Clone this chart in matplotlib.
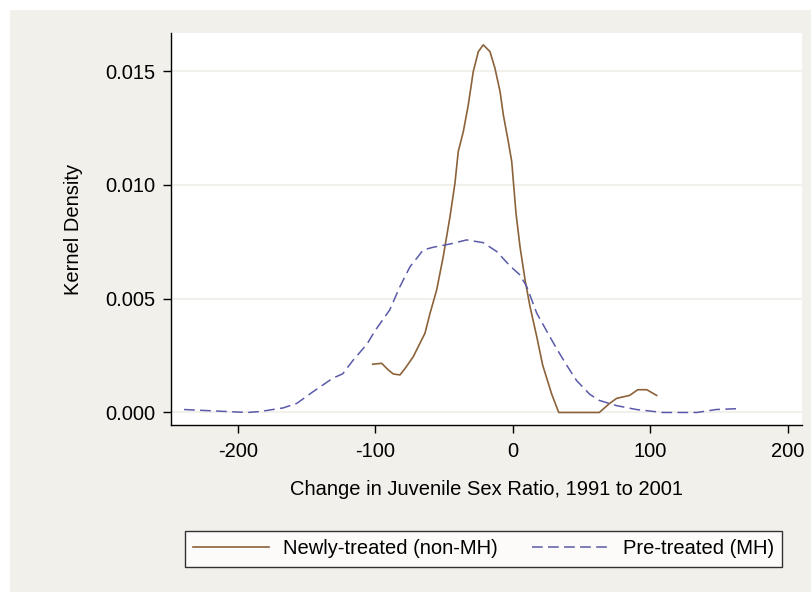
import matplotlib
matplotlib.use("Agg")
from matplotlib import pyplot as plt
from matplotlib.patches import Rectangle

plt.rcParams['font.family'] = ['Liberation Sans', 'DejaVu Sans']
plt.rcParams['axes.unicode_minus'] = False

# kernel density curves
new_x = [-101.8, -95.3, -90.5, -86.8, -82, -78.2, -72.3, -68.7, -63.8, -60.1,
         -55.3, -50.5, -45.6, -42, -39.6, -35.9, -32.3, -28.7, -25, -21.4,
         -16.5, -12.9, -9.2, -6.8, -3.2, -0.7, 0.9, 2.4, 5.3, 9, 12.6, 17.5,
         21.8, 28.4, 33.5, 63, 70.5, 75.6, 85, 91, 97.5, 104.7]
new_y = [0.00212, 0.00216, 0.00187, 0.00169, 0.00165, 0.00194, 0.00245, 0.00289,
         0.00348, 0.00436, 0.00538, 0.00685, 0.0086, 0.01007, 0.01146, 0.01234,
         0.01351, 0.01497, 0.01585, 0.01615, 0.01585, 0.01512, 0.0141, 0.01307,
         0.0119, 0.01102, 0.00985, 0.00875, 0.00729, 0.00582, 0.00465, 0.00333,
         0.00208, 0.0008, 0.0, 0.0, 0.0004, 0.00062, 0.00075, 0.001, 0.001, 0.00075]

pre_x = [-239, -193, -184, -167, -157, -145.5, -131, -123.6, -116, -106, -100,
         -89.5, -82, -74.7, -65, -57.7, -45.6, -33.5, -21.4, -11.6, -2, 5.3,
         10.2, 17.5, 27, 32, 39, 46.5, 56, 63, 75.6, 90, 109, 124, 134, 148, 165]
pre_y = [0.00013, 0.0, 0.00004, 0.0002, 0.0004, 0.0009, 0.0015, 0.0017, 0.0023,
         0.003, 0.0036, 0.0045, 0.00553, 0.0064, 0.00714, 0.00726, 0.0074,
         0.00758, 0.00746, 0.00707, 0.00644, 0.00604, 0.00553, 0.00436, 0.00333,
         0.0028, 0.0021, 0.0014, 0.0008, 0.00053, 0.0003, 0.00013, 0.0, 0.0, 0.0,
         0.00013, 0.00017]

labels = ["Newly-treated (non-MH)", "Pre-treated (MH)"]
x_ticks = [-200, -100, 0, 100, 200]
y_ticks = [0.0, 0.005, 0.010, 0.015]

FS = 14.5
W, H = 811, 592
fig = plt.figure(figsize=(W / 100, H / 100), dpi=100, facecolor="white")
fig.patches.append(Rectangle((10 / W, 0), 1, 1 - 10 / H, transform=fig.transFigure,
                             facecolor="#f1f0eb", edgecolor="none", zorder=-10))

ax = fig.add_axes([171 / W, 1 - 425 / H, 631 / W, 392 / H])
ax.set_facecolor("white")

ax.plot(new_x, new_y, color="#8b6239", lw=1.2, label=labels[0])
ax.plot(pre_x, pre_y, color="#5a5aaa", lw=1.1, dashes=[7, 3.5], label=labels[1])

ax.set_xlim(-248.5, 210.4)
ax.set_ylim(-0.00055, 0.01667)
ax.set_xticks(x_ticks)
ax.set_yticks(y_ticks)
ax.set_yticklabels([f"{v:.3f}" for v in y_ticks])
ax.grid(axis="y", color="#efeee6", lw=1.2)
ax.set_axisbelow(True)

for s in ["top", "right"]:
    ax.spines[s].set_visible(False)
for s in ["left", "bottom"]:
    ax.spines[s].set_linewidth(1.0)
ax.tick_params(axis="both", labelsize=FS, length=6, width=1)
ax.tick_params(axis="x", pad=6)
ax.tick_params(axis="y", pad=5)

ax.set_ylabel("Kernel Density", fontsize=FS, labelpad=16)
ax.set_xlabel("Change in Juvenile Sex Ratio, 1991 to 2001", fontsize=FS, labelpad=14)

leg = fig.legend(loc="center", bbox_to_anchor=((182 + 785) / 2 / W, 1 - 549 / H),
                 ncol=2, fontsize=FS, frameon=True, fancybox=False,
                 handlelength=3.8, handletextpad=0.7, columnspacing=1.7,
                 borderpad=0.4)
leg.get_frame().set_edgecolor("black")
leg.get_frame().set_linewidth(1.0)
leg.get_frame().set_facecolor("white")

fig.savefig("out.png", dpi=100, facecolor=fig.get_facecolor())
